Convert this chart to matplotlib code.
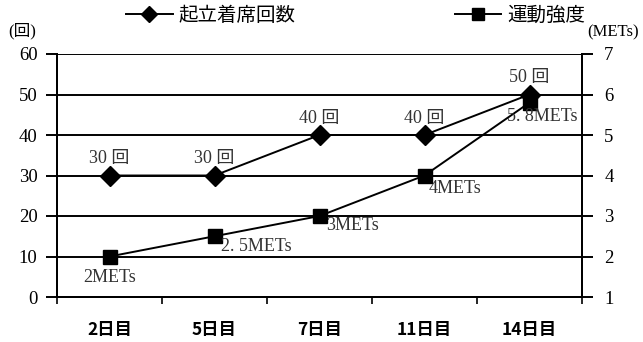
import matplotlib
matplotlib.use("Agg")
import matplotlib.pyplot as plt
from matplotlib.lines import Line2D
import numpy as np

plt.rcParams['font.family'] = ['Liberation Serif', 'Noto Sans CJK JP']

categories = ['2日目', '5日目', '7日目', '11日目', '14日目']
reps = [30, 30, 40, 40, 50]
mets = [2, 2.5, 3, 4, 5.8]
rep_labels = ['30 回', '30 回', '40 回', '40 回', '50 回']
mets_labels = ['2METs', '2. 5METs', '3METs', '4METs', '5. 8METs']
left_ticks = [0, 10, 20, 30, 40, 50, 60]
right_ticks = [1, 2, 3, 4, 5, 6, 7]

fig = plt.figure(figsize=(6.43, 3.42), dpi=100)
ax = fig.add_axes([57/643, 1-297/342, 525/643, 243/342])
ax2 = ax.twinx()

x = np.arange(len(categories))
ax.set_xlim(-0.5, len(categories)-0.5)
ax.set_ylim(0, 60)
ax2.set_ylim(1, 7)

for y in left_ticks:
    ax.axhline(y, color='black', lw=1.4, zorder=1)

ax.plot(x, reps, color='black', lw=1.4, marker='D', markersize=10.5, zorder=3)
ax2.plot(x, mets, color='black', lw=1.4, marker='s', markersize=9.5, zorder=3)

for spine in ['top']:
    ax.spines[spine].set_visible(False)
    ax2.spines[spine].set_visible(False)
for s in ['left', 'right', 'bottom']:
    ax2.spines[s].set_linewidth(1.4)
    ax.spines[s].set_linewidth(1.4)

ax.set_yticks(left_ticks)
ax2.set_yticks(right_ticks)
ax.tick_params(axis='y', direction='out', length=8, width=1.4, labelsize=13.5, pad=6)
ax2.tick_params(axis='y', direction='out', length=8, width=1.4, labelsize=13.5, pad=8)
ax.set_xticks(x)
ax.set_xticklabels(categories, fontsize=12.5, family=['Noto Sans CJK JP'], fontweight='bold')
ax.tick_params(axis='x', length=0, pad=17)
ax.set_xticks(np.arange(-0.5, len(categories), 1.0), minor=True)
ax.tick_params(axis='x', which='minor', direction='out', length=5, width=1.2)

# data labels
for xi, yi, lab in zip(x, reps, rep_labels):
    ax.annotate(lab, (xi, yi), xytext=(0, 6), textcoords='offset points',
                ha='center', va='bottom', fontsize=13, color='#333333')
offsets = [(0, -9, 'center', 'top'), (5, -1, 'left', 'top'), (5, -1, 'left', 'top'),
           (3, -3, 'left', 'top'), (-16, -4, 'left', 'top')]
for xi, yi, lab, (dx, dy, ha, va) in zip(x, mets, mets_labels, offsets):
    ax2.annotate(lab, (xi, yi), xytext=(dx, dy), textcoords='offset points',
                 ha=ha, va=va, fontsize=13, color='#333333')

fig.text(22/643, 1-31/342, '(回)', ha='center', va='center', fontsize=12)
fig.text(613/643, 1-32/342, '(METs)', ha='center', va='center', fontsize=12)

h1 = Line2D([], [], color='black', lw=1.4, marker='D', markersize=8)
h2 = Line2D([], [], color='black', lw=1.4, marker='s', markersize=8)
fig.legend([h1, h2], ['起立着席回数', '運動強度'], loc='center',
           bbox_to_anchor=(0.553, 1-15/342), ncol=2, frameon=False,
           handlelength=2.4, columnspacing=8.2, handletextpad=0.3,
           prop={'family': 'Noto Sans CJK JP', 'size': 14})

fig.savefig('out.png', dpi=100)
